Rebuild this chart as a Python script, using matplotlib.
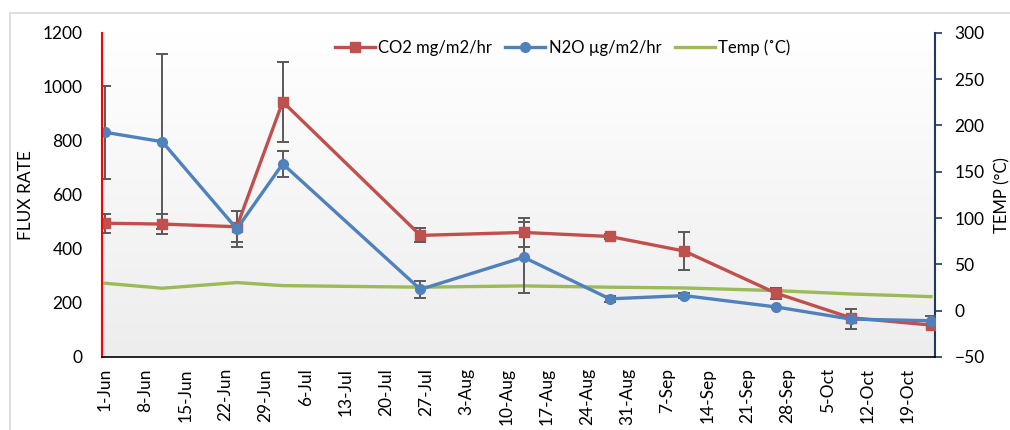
import numpy as np
import pandas as pd
import matplotlib
matplotlib.use("Agg")
import matplotlib.pyplot as plt
import matplotlib.dates as mdates
from matplotlib.patches import Rectangle
from matplotlib.lines import Line2D

plt.rcParams['font.family'] = ['Lato', 'DejaVu Sans']

# sampling dates (2019 season)
dates = pd.to_datetime(["2019-06-01", "2019-06-11", "2019-06-24", "2019-07-02",
                        "2019-07-26", "2019-08-13", "2019-08-28", "2019-09-10",
                        "2019-09-26", "2019-10-09", "2019-10-23"])

co2 = [495, 492, 482, 945, 450, 461, 446, 392, 236, 145, 118]
co2_err = [36, 36, 58, 148, 26, 53, 8, 71, 21, 0, 0]

n2o = [832, 797, 474, 715, 250, 369, 215, 227, 185, 140, 134]
n2o_err = [173, 323, 68, 48, 31, 132, 12, 8, 0, 37, 17]

temp = [29.6, 24.2, 30.3, 27.0, 25.3, 26.7, 25.3, 24.5, 21.6, 18.0, 15.1]

labels = ["CO2 mg/m2/hr", "N2O \u00b5g/m2/hr", "Temp (\u02daC)"]
tick_dates = pd.date_range("2019-06-01", "2019-10-19", freq="7D")

red, blue, green = "#c0504d", "#4f81bd", "#9bbb59"

fig = plt.figure(figsize=(10.1, 4.3), dpi=100)
ax = fig.add_axes([0.101, 0.170, 0.8247, 0.7535])
ax2 = ax.twinx()

# outer chart frame
fig.patches.append(Rectangle((10 / 1010, -0.1), 1.2, (430 - 13) / 430 + 0.1,
                             transform=fig.transFigure, fill=False,
                             edgecolor="#d9d9d9", linewidth=1.2))

# flux axis above temp axis, gradient lives on ax2
ax.set_zorder(ax2.get_zorder() + 1)
ax.patch.set_visible(False)
grad = np.linspace(1.0, 0.93, 256).reshape(-1, 1)
grad = np.dstack([grad, grad, grad])
ax2.imshow(grad, extent=[0, 1, 0, 1], transform=ax2.transAxes,
           aspect="auto", zorder=0)

err_kw = dict(ecolor="#595959", elinewidth=1.4, capsize=4, capthick=1.4)

ax.errorbar(dates, co2, yerr=co2_err, color=red, lw=2.4,
            marker="s", ms=7, **err_kw)
ax.errorbar(dates, n2o, yerr=n2o_err, color=blue, lw=2.4,
            marker="o", ms=7, **err_kw)
ax2.plot(dates, temp, color=green, lw=2.4)

x0 = mdates.date2num(pd.Timestamp("2019-06-01"))
ax.set_xlim(x0 - 0.5, x0 + 144.7)
ax.set_ylim(0, 1200)
ax.set_yticks(range(0, 1201, 200))
ax2.set_ylim(-50, 300)
ax2.set_yticks(range(-50, 301, 50))

ax.set_xticks(tick_dates)
ax.set_xticklabels([f"{d.day}-{d.strftime('%b')}" for d in tick_dates],
                   rotation=90)

ax.tick_params(axis="y", length=0, pad=14, labelsize=12.5)
ax.tick_params(axis="x", length=0, pad=8, labelsize=12.5)
ax2.tick_params(axis="y", length=5, width=1.2, direction="out",
                color="#1f3864", pad=9, labelsize=12.5)

for s in ["top", "right"]:
    ax.spines[s].set_visible(False)
for s in ["top", "left", "bottom"]:
    ax2.spines[s].set_visible(False)
ax.spines["left"].set_color("#ff0000")
ax.spines["left"].set_linewidth(1.5)
ax.spines["bottom"].set_color("black")
ax.spines["bottom"].set_linewidth(1.2)
ax2.spines["right"].set_color("#1f3864")
ax2.spines["right"].set_linewidth(1.5)

ax.set_ylabel("FLUX RATE", fontsize=12.5)
ax.yaxis.set_label_coords(-0.082, 0.5)
ax2.set_ylabel("TEMP (\u00b0C)", fontsize=12)
ax2.yaxis.set_label_coords(1.071, 0.5)

handles = [Line2D([], [], color=red, lw=2.4, marker="s", ms=7),
           Line2D([], [], color=blue, lw=2.4, marker="o", ms=7),
           Line2D([], [], color=green, lw=2.4)]
ax.legend(handles, labels, loc="center", bbox_to_anchor=(0.553, 0.954),
          ncol=3, frameon=False, fontsize=12, handlelength=2.4,
          columnspacing=0.8, handletextpad=0.2)

fig.savefig("out.png", dpi=100)
